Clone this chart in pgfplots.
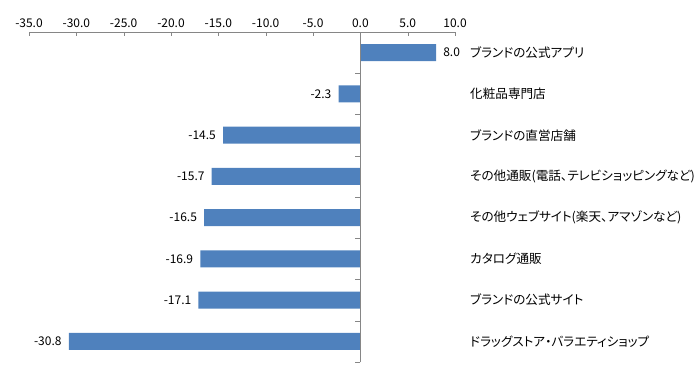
\documentclass[border=0pt]{standalone}
\usepackage{fontspec}
\setmainfont{Noto Sans CJK JP}[RawFeature=+palt]
\usepackage{pgfplots}
\pgfplotsset{compat=1.18}
\definecolor{barblue}{HTML}{4F81BD}
\definecolor{axgray}{HTML}{868686}
\tikzset{catlabel/.style={anchor=west, xshift=15bp, inner sep=0pt, font=\fontsize{12.6bp}{14bp}\selectfont}}
\begin{document}
\fontsize{12bp}{14bp}\selectfont
\begin{tikzpicture}
\path[use as bounding box] (-29bp,32bp) rectangle (669bp,-345bp);
\begin{axis}[at={(0,0)}, anchor=north west, scale only axis,
  width=426bp, height=330bp,
  xbar, bar width=17bp, y dir=reverse,
  ymin=-0.5, ymax=7.5, xmin=-35, xmax=10,
  axis x line*=top, axis y line=none,
  axis line style={axgray},
  xtick={-35,-30,...,10}, tick align=inside,
  major tick length=4bp,
  x tick style={axgray},
  /pgf/number format/.cd, fixed, fixed zerofill, precision=1, assume math mode=true,
  /pgfplots/.cd,
  xticklabel style={font=\fontsize{12bp}{14bp}\selectfont, text=black},
  clip=false,
  nodes near coords, nodes near coords align=horizontal,
  every node near coord/.append style={font=\fontsize{12bp}{14bp}\selectfont, text=black, inner xsep=7bp},
]
\addplot[fill=barblue, draw=none] coordinates {
(8.0,0) (-2.3,1) (-14.5,2) (-15.7,3) (-16.5,4) (-16.9,5) (-17.1,6) (-30.8,7)};
\draw[axgray] (axis cs:0,-0.5) -- (axis cs:0,7.5);
\draw[axgray] (axis cs:0,0.5) -- ([xshift=-5bp]axis cs:0,0.5);
\draw[axgray] (axis cs:0,1.5) -- ([xshift=-5bp]axis cs:0,1.5);
\draw[axgray] (axis cs:0,2.5) -- ([xshift=-5bp]axis cs:0,2.5);
\draw[axgray] (axis cs:0,3.5) -- ([xshift=-5bp]axis cs:0,3.5);
\draw[axgray] (axis cs:0,4.5) -- ([xshift=-5bp]axis cs:0,4.5);
\draw[axgray] (axis cs:0,5.5) -- ([xshift=-5bp]axis cs:0,5.5);
\draw[axgray] (axis cs:0,6.5) -- ([xshift=-5bp]axis cs:0,6.5);
\draw[axgray] (axis cs:0,7.5) -- ([xshift=-5bp]axis cs:0,7.5);
\node[catlabel] at (axis cs:10,0) {ブランドの公式アプリ};
\node[catlabel] at (axis cs:10,1) {化粧品専門店};
\node[catlabel] at (axis cs:10,2) {ブランドの直営店舗};
\node[catlabel] at (axis cs:10,3) {その他通販(電話、テレビショッピングなど)};
\node[catlabel] at (axis cs:10,4) {その他ウェブサイト(楽天、アマゾンなど)};
\node[catlabel] at (axis cs:10,5) {カタログ通販};
\node[catlabel] at (axis cs:10,6) {ブランドの公式サイト};
\node[catlabel] at (axis cs:10,7) {ドラッグストア・バラエティショップ};
\end{axis}
\end{tikzpicture}
\end{document}
